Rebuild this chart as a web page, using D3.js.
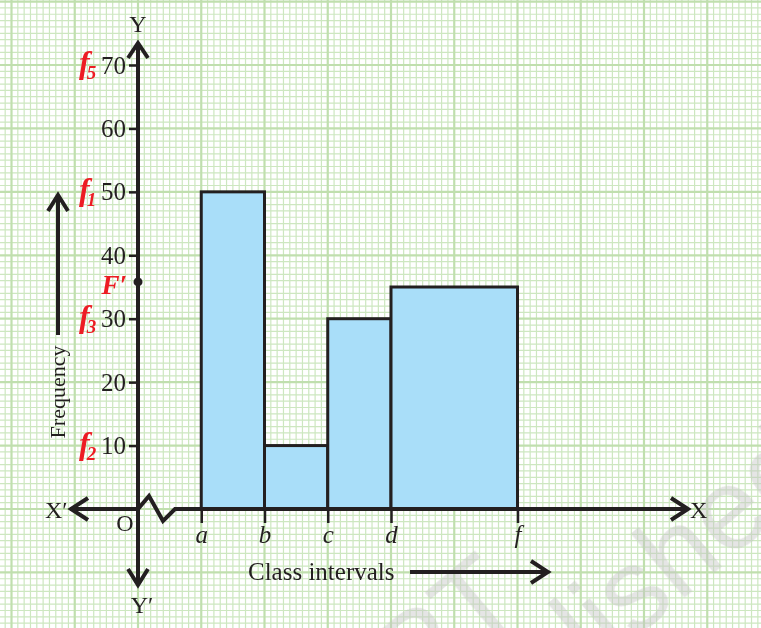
<!DOCTYPE html>
<html>
<head>
<meta charset="utf-8">
<script src="https://cdn.jsdelivr.net/npm/d3@7"></script>
<style>
body{margin:0;background:#fff;}
svg{display:block;}
text{font-family:"Liberation Serif","Times New Roman",serif;fill:#231f20;}
</style>
</head>
<body>
<div id="chart"></div>
<script>

var classLabels = ["a", "b", "c", "d", "f"];
var classBounds = [1, 2, 3, 4, 6];      // class limits, in grid units from O
var frequencies = [50, 10, 30, 35];     // one per interval a-b, b-c, c-d, d-f
var yTicks = [10, 20, 30, 40, 50, 60, 70];
var fSubs = ["5", "1", "3", "2"];
var fValues = [70, 50, 30, 10];
var fPrime = 35.8;

var width = 761, height = 628;

var svg = d3.select("#chart").append("svg")
    .attr("width", width)
    .attr("height", height);

var x = d3.scaleLinear().domain([0, 1]).range([138, 201.25]);
var y = d3.scaleLinear().domain([0, 70]).range([509, 65]);

// graph paper
var grid = svg.append("g");
var xi0 = Math.floor(x.invert(0) * 10), xi1 = Math.ceil(x.invert(width) * 10);
var yi0 = Math.floor(y.invert(height)), yi1 = Math.ceil(y.invert(0));

grid.selectAll(".vmin").data(d3.range(xi0, xi1 + 1).filter(function(i){ return i % 10 != 0; }))
  .enter().append("line")
    .attr("x1", function(i){ return x(i / 10); }).attr("x2", function(i){ return x(i / 10); })
    .attr("y1", 0).attr("y2", height)
    .style("stroke", "#cde7c0").style("stroke-width", 1.2);

grid.selectAll(".hmin").data(d3.range(yi0, yi1 + 1).filter(function(i){ return i % 10 != 0; }))
  .enter().append("line")
    .attr("y1", function(i){ return y(i); }).attr("y2", function(i){ return y(i); })
    .attr("x1", 0).attr("x2", width)
    .style("stroke", "#cde7c0").style("stroke-width", 1.2);

grid.selectAll(".vmaj").data(d3.range(xi0, xi1 + 1).filter(function(i){ return i % 10 == 0; }))
  .enter().append("line")
    .attr("x1", function(i){ return x(i / 10); }).attr("x2", function(i){ return x(i / 10); })
    .attr("y1", 0).attr("y2", height)
    .style("stroke", "#c0dfae").style("stroke-width", 2.2);

grid.selectAll(".hmaj").data(d3.range(yi0, yi1 + 1).filter(function(i){ return i % 10 == 0; }))
  .enter().append("line")
    .attr("y1", function(i){ return y(i); }).attr("y2", function(i){ return y(i); })
    .attr("x1", 0).attr("x2", width)
    .style("stroke", "#c0dfae").style("stroke-width", 2.2);

// watermark
var wm = svg.append("g").style("opacity", 0.45);
wm.append("text")
    .attr("transform", "translate(528,610) rotate(-40)")
    .attr("text-anchor", "end")
    .style("font-family", "'Liberation Sans', Arial, sans-serif")
    .style("font-size", "115px")
    .style("fill", "#c4c4c4")
    .text("©NCERT");
wm.append("text")
    .attr("transform", "translate(595,672) rotate(-40)")
    .style("font-family", "'Liberation Sans', Arial, sans-serif")
    .style("font-size", "115px")
    .style("fill", "#c4c4c4")
    .text("lished");

// bars
svg.selectAll(".bar").data(frequencies)
  .enter().append("rect")
    .attr("x", function(d, i){ return x(classBounds[i]); })
    .attr("y", function(d){ return y(d); })
    .attr("width", function(d, i){ return x(classBounds[i + 1]) - x(classBounds[i]); })
    .attr("height", function(d){ return y(0) - y(d); })
    .style("fill", "#a9def9")
    .style("stroke", "#231f20")
    .style("stroke-width", 3);

// axes
var ax = svg.append("g").style("fill", "none").style("stroke", "#231f20")
    .style("stroke-width", 4).style("stroke-linejoin", "miter");

var ox = x(0), oy = y(0);
ax.append("path").attr("d", "M" + ox + ",45V585");
ax.append("path").attr("d", "M70," + oy + "H" + ox + "L" + (ox + 11) + "," + (oy - 13)
    + "L" + (ox + 25) + "," + (oy + 12) + "L" + (ox + 37) + "," + oy + "H688");

ax.append("path").attr("d", "M" + (ox - 10) + ",58L" + ox + ",43L" + (ox + 10) + ",58");
ax.append("path").attr("d", "M" + (ox - 10) + ",569L" + ox + ",585L" + (ox + 10) + ",569");
ax.append("path").attr("d", "M88," + (oy - 11) + "L71," + oy + "L88," + (oy + 11));
ax.append("path").attr("d", "M671," + (oy - 11) + "L688," + oy + "L671," + (oy + 11));

var yAxis = svg.append("g")
    .attr("transform", "translate(" + ox + ",0)")
    .call(d3.axisLeft(y).tickValues(yTicks).tickSize(9).tickPadding(3));
yAxis.select(".domain").remove();
yAxis.selectAll("line").style("stroke", "#231f20").style("stroke-width", 2.5);
yAxis.selectAll("text").style("font-family", "'Liberation Serif', serif")
    .style("font-size", "25px").style("fill", "#231f20");

var xAxis = svg.append("g")
    .attr("transform", "translate(0," + oy + ")")
    .call(d3.axisBottom(x).tickValues(classBounds)
        .tickFormat(function(d, i){ return classLabels[i]; })
        .tickSize(14).tickPadding(2));
xAxis.select(".domain").remove();
xAxis.selectAll("line").style("stroke", "#231f20").style("stroke-width", 2.5);
xAxis.selectAll("text").style("font-family", "'Liberation Serif', serif")
    .style("font-style", "italic").style("font-size", "25px").style("fill", "#231f20");

// red labels
var red = "#ed1c24";
var fl = svg.selectAll(".flab").data(fValues).enter().append("text")
    .attr("x", 79)
    .attr("y", function(d){ return y(d) + 8; })
    .style("fill", red).style("font-style", "italic").style("font-weight", "bold");
fl.append("tspan").style("font-size", "32px").style("fill", red).text("f");
fl.append("tspan").attr("dx", -3).attr("dy", 6).style("font-size", "19px").style("fill", red)
    .text(function(d, i){ return fSubs[i]; });

svg.append("circle").attr("cx", ox).attr("cy", y(fPrime)).attr("r", 4.5).style("fill", "#231f20");
svg.append("text").attr("x", 127).attr("y", y(fPrime) + 12).attr("text-anchor", "end")
    .style("fill", red).style("font-style", "italic").style("font-weight", "bold")
    .style("font-size", "27px").text("F\u2032");

// axis names
svg.append("text").attr("x", ox).attr("y", 32).attr("text-anchor", "middle").style("font-size", "24px").text("Y");
svg.append("text").attr("x", ox + 4).attr("y", 613).attr("text-anchor", "middle").style("font-size", "24px").text("Y\u2032");
svg.append("text").attr("x", 45).attr("y", oy + 9).style("font-size", "24px").text("X\u2032");
svg.append("text").attr("x", 690).attr("y", oy + 9).style("font-size", "24px").text("X");
svg.append("text").attr("x", 125).attr("y", oy + 22).attr("text-anchor", "middle").style("font-size", "24px").text("O");

svg.append("text").attr("x", 248).attr("y", 580).style("font-size", "25px").text("Class intervals");
ax.append("path").attr("d", "M410,572H547");
ax.append("path").attr("d", "M531,561L548,572L531,583");

svg.append("text").attr("transform", "translate(65,392) rotate(-90)")
    .attr("text-anchor", "middle").style("font-size", "22px").text("Frequency");
ax.append("path").attr("d", "M58,335V195");
ax.append("path").attr("d", "M48,211L58,195L68,211");

</script>
</body>
</html>
